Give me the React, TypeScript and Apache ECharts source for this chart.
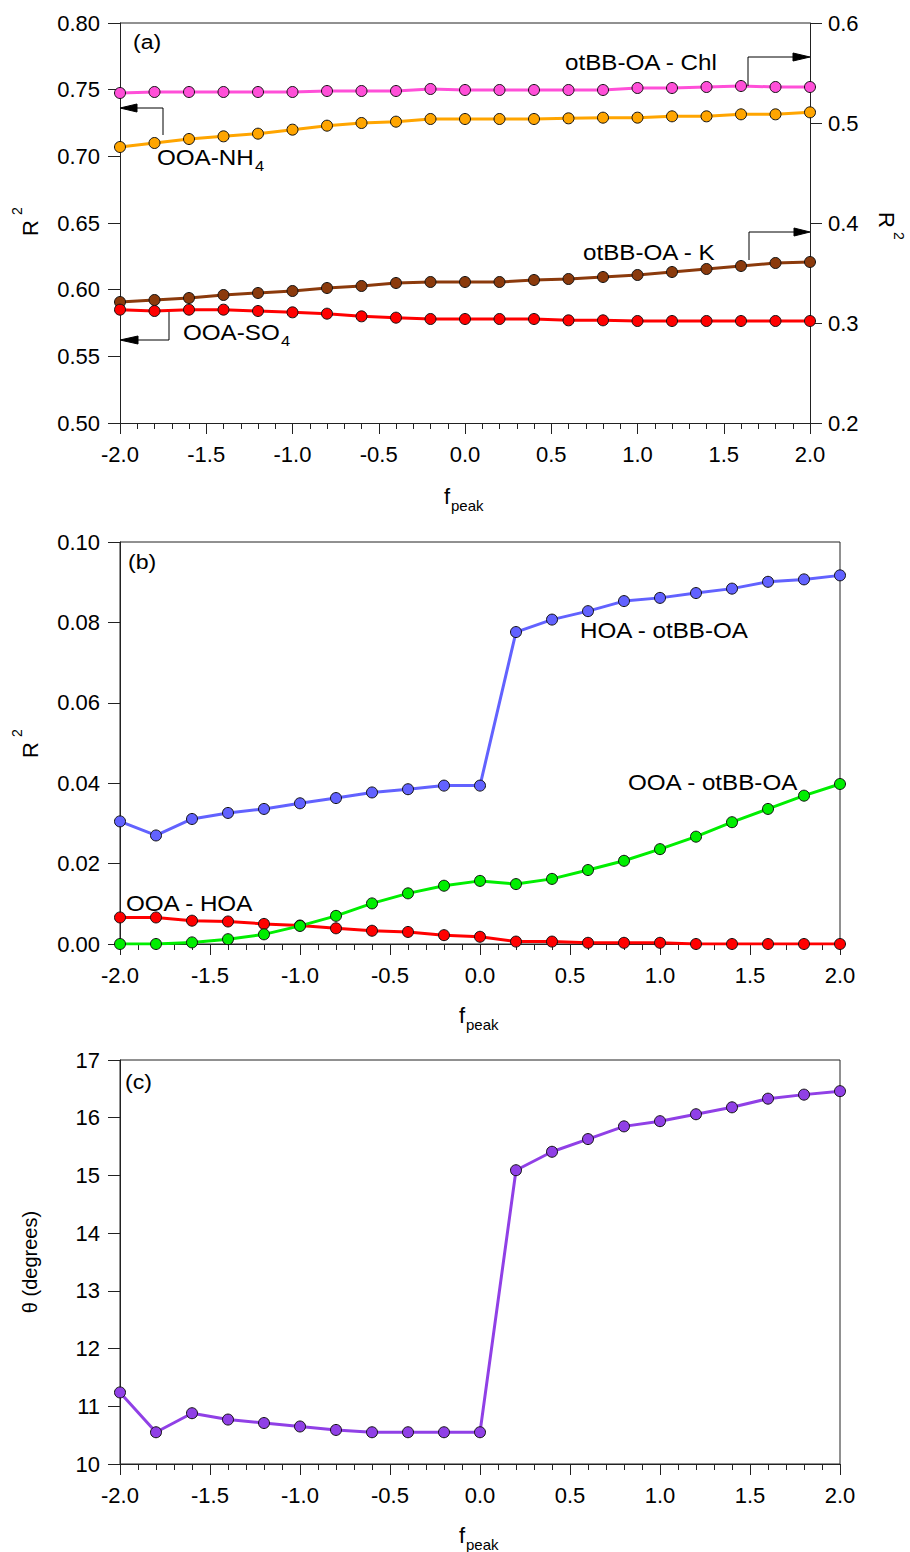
import React, { useEffect, useRef } from "react";
import * as echarts from "echarts";

const fpeak = [-2.0, -1.8, -1.6, -1.4, -1.2, -1.0, -0.8, -0.6, -0.4, -0.2, 0.0, 0.2, 0.4, 0.6, 0.8, 1.0, 1.2, 1.4, 1.6, 1.8, 2.0];

// panel (a)
const otbbChl = [0.530, 0.531, 0.531, 0.531, 0.531, 0.531, 0.532, 0.532, 0.532, 0.534, 0.533, 0.533, 0.533, 0.533, 0.533, 0.535, 0.535, 0.536, 0.537, 0.536, 0.536]; // right axis
const ooaNH4 = [0.707, 0.710, 0.713, 0.715, 0.717, 0.720, 0.723, 0.725, 0.726, 0.728, 0.728, 0.728, 0.728, 0.7285, 0.729, 0.729, 0.730, 0.730, 0.7315, 0.7315, 0.733]; // left axis
const otbbK = [0.321, 0.323, 0.325, 0.328, 0.330, 0.332, 0.335, 0.337, 0.340, 0.341, 0.341, 0.341, 0.343, 0.344, 0.346, 0.348, 0.351, 0.354, 0.357, 0.360, 0.361]; // right axis
const ooaSO4 = [0.585, 0.584, 0.585, 0.585, 0.584, 0.583, 0.582, 0.580, 0.579, 0.578, 0.578, 0.578, 0.578, 0.577, 0.577, 0.5765, 0.5765, 0.5765, 0.5765, 0.5765, 0.5765]; // left axis

// panel (b)
const hoaOtbb = [0.0305, 0.0270, 0.0311, 0.0326, 0.0336, 0.0350, 0.0363, 0.0377, 0.0385, 0.0394, 0.0394, 0.0776, 0.0807, 0.0828, 0.0853, 0.0861, 0.0873, 0.0884, 0.0901, 0.0907, 0.0917];
const ooaOtbb = [0.0000, 0.0000, 0.0004, 0.0012, 0.0024, 0.0045, 0.0070, 0.0101, 0.0126, 0.0145, 0.0157, 0.0149, 0.0162, 0.0184, 0.0207, 0.0236, 0.0267, 0.0303, 0.0336, 0.0369, 0.0398];
const ooaHoa = [0.0066, 0.0066, 0.0058, 0.0056, 0.0050, 0.0046, 0.0039, 0.0033, 0.0030, 0.0022, 0.0018, 0.0006, 0.0006, 0.0003, 0.0003, 0.0003, 0.0000, 0.0000, 0.0000, 0.0000, 0.0000];

// panel (c)
const theta = [11.24, 10.55, 10.88, 10.77, 10.71, 10.65, 10.59, 10.55, 10.55, 10.55, 10.55, 15.09, 15.41, 15.63, 15.85, 15.94, 16.06, 16.18, 16.33, 16.40, 16.46];

const FONT = "'Liberation Sans', Arial, sans-serif";
const LBL = 22;
const ANN = 22;
const SX = 1.1;

const pairs = (ys: number[]) => fpeak.map((x, i) => [x, ys[i]]);

function xAxisCfg(gridIndex: number) {
  return {
    type: "value",
    gridIndex,
    min: -2,
    max: 2,
    interval: 0.5,
    axisLine: { show: true, onZero: false, lineStyle: { color: "#222", width: 1 } },
    axisTick: { show: true, inside: false, length: 11, lineStyle: { color: "#222" } },
    minorTick: { show: true, splitNumber: 5, length: 6, lineStyle: { color: "#222" } },
    splitLine: { show: false },
    minorSplitLine: { show: false },
    axisLabel: { fontSize: LBL, fontFamily: FONT, color: "#000", margin: 20, formatter: (v: number) => v.toFixed(1) },
  };
}

function yAxisCfg(gridIndex: number, min: number, max: number, interval: number, dec: number, position = "left") {
  return {
    type: "value",
    gridIndex,
    min,
    max,
    interval,
    position,
    axisLine: { show: true, onZero: false, lineStyle: { color: "#222", width: 1 } },
    axisTick: { show: true, inside: false, length: 12, lineStyle: { color: "#222" } },
    splitLine: { show: false },
    axisLabel: { fontSize: LBL, fontFamily: FONT, color: "#000", margin: position === "left" ? 20 : 18, formatter: (v: number) => v.toFixed(dec) },
  };
}

function lineSeries(name: string, data: number[], color: string, xi: number, yi: number) {
  return {
    name,
    type: "line",
    xAxisIndex: xi,
    yAxisIndex: yi,
    data: pairs(data),
    symbol: "circle",
    symbolSize: 11,
    showSymbol: true,
    lineStyle: { color, width: 3 },
    itemStyle: { color, borderColor: "#111", borderWidth: 1 },
    emphasis: { disabled: true },
  };
}

const txt = (text: string, x: number, y: number, size = ANN, extra: any = {}) => ({
  type: "text",
  x,
  y,
  scaleX: extra.scaleX || 1,
  style: { text, fontSize: size, fontFamily: FONT, fill: "#000", align: "left", verticalAlign: "middle", ...extra.style },
  rotation: extra.rotation || 0,
  z: 100,
});
const ann = (text: string, x: number, y: number, size = ANN) => txt(text, x, y, size, { scaleX: SX });

const pl = (points: number[][]) => ({
  type: "polyline",
  shape: { points },
  style: { stroke: "#000", lineWidth: 1, fill: null },
  z: 100,
});
const head = (points: number[][]) => ({
  type: "polygon",
  shape: { points },
  style: { fill: "#000", stroke: "#000", lineWidth: 1 },
  z: 100,
});

export default function App() {
  const ref = useRef<HTMLDivElement>(null);
  useEffect(() => {
    if (!ref.current) return;
    const chart = echarts.init(ref.current, null, { renderer: "svg" });
    const option: any = {
      animation: false,
      backgroundColor: "#fff",
      grid: [
        { left: 120, top: 23, width: 690, height: 400, show: false },
        { left: 120, top: 542, width: 720, height: 402, show: true, borderColor: "#222", borderWidth: 1, backgroundColor: "transparent" },
        { left: 120, top: 1060, width: 720, height: 404, show: true, borderColor: "#222", borderWidth: 1, backgroundColor: "transparent" },
      ],
      xAxis: [xAxisCfg(0), xAxisCfg(1), xAxisCfg(2)],
      yAxis: [
        yAxisCfg(0, 0.5, 0.8, 0.05, 2, "left"),
        yAxisCfg(0, 0.2, 0.6, 0.1, 1, "right"),
        yAxisCfg(1, 0, 0.1, 0.02, 2, "left"),
        yAxisCfg(2, 10, 17, 1, 0, "left"),
      ],
      series: [
        lineSeries("OOA-NH4", ooaNH4, "#ffa500", 0, 0),
        lineSeries("otBB-OA - Chl", otbbChl, "#ff4fd8", 0, 1),
        lineSeries("otBB-OA - K", otbbK, "#8b3a0c", 0, 1),
        lineSeries("OOA-SO4", ooaSO4, "#ff0000", 0, 0),
        lineSeries("HOA - otBB-OA", hoaOtbb, "#6262ff", 1, 2),
        lineSeries("OOA - HOA", ooaHoa, "#ff0000", 1, 2),
        lineSeries("OOA - otBB-OA", ooaOtbb, "#00ee00", 1, 2),
        lineSeries("theta", theta, "#9040e6", 2, 3),
      ],
      graphic: [
        // top border of panel (a)
        { type: "line", shape: { x1: 120, y1: 23, x2: 810, y2: 23 }, style: { stroke: "#222", lineWidth: 1 }, z: 50 },
        // panel labels
        ann("(a)", 133, 42, 21),
        ann("(b)", 128, 562, 21),
        ann("(c)", 125, 1082, 21),
        // panel (a) annotations
        ann("OOA-NH", 157, 157),
        ann("4", 255, 166, 15),
        pl([[163, 135], [163, 108], [136, 108]]),
        head([[120, 108], [137, 104], [137, 112]]),
        ann("otBB-OA - Chl", 565, 62),
        pl([[748, 86], [748, 57], [793, 57]]),
        head([[810, 57], [793, 53], [793, 61]]),
        ann("otBB-OA - K", 583, 252),
        pl([[749, 260], [749, 232], [794, 232]]),
        head([[810, 232], [794, 228], [794, 236]]),
        ann("OOA-SO", 183, 332),
        ann("4", 281, 341, 15),
        pl([[169, 312], [169, 340], [138, 340]]),
        head([[120, 340], [138, 336], [138, 344]]),
        // panel (b) annotations
        ann("HOA - otBB-OA", 580, 630),
        ann("OOA - otBB-OA", 628, 782),
        ann("OOA - HOA", 126, 903),
        // axis titles
        txt("R", 30, 228, 22, { rotation: Math.PI / 2, style: { align: "center" } }),
        txt("2", 17, 211, 14, { rotation: Math.PI / 2, style: { align: "center" } }),
        txt("R", 886, 220, 22, { rotation: -Math.PI / 2, style: { align: "center" } }),
        txt("2", 899, 236, 14, { rotation: -Math.PI / 2, style: { align: "center" } }),
        txt("f", 444, 496, 22),
        txt("peak", 451, 505, 15),
        txt("R", 30, 750, 22, { rotation: Math.PI / 2, style: { align: "center" } }),
        txt("2", 17, 733, 14, { rotation: Math.PI / 2, style: { align: "center" } }),
        txt("f", 459, 1015, 22),
        txt("peak", 466, 1024, 15),
        txt("θ (degrees)", 30, 1262, 20, { rotation: Math.PI / 2, style: { align: "center" } }),
        txt("f", 459, 1535, 22),
        txt("peak", 466, 1544, 15),
      ],
    };
    chart.setOption(option);
    return () => chart.dispose();
  }, []);
  return <div ref={ref} style={{ position: "absolute", left: 0, top: 0, width: 910, height: 1552 }} />;
}
